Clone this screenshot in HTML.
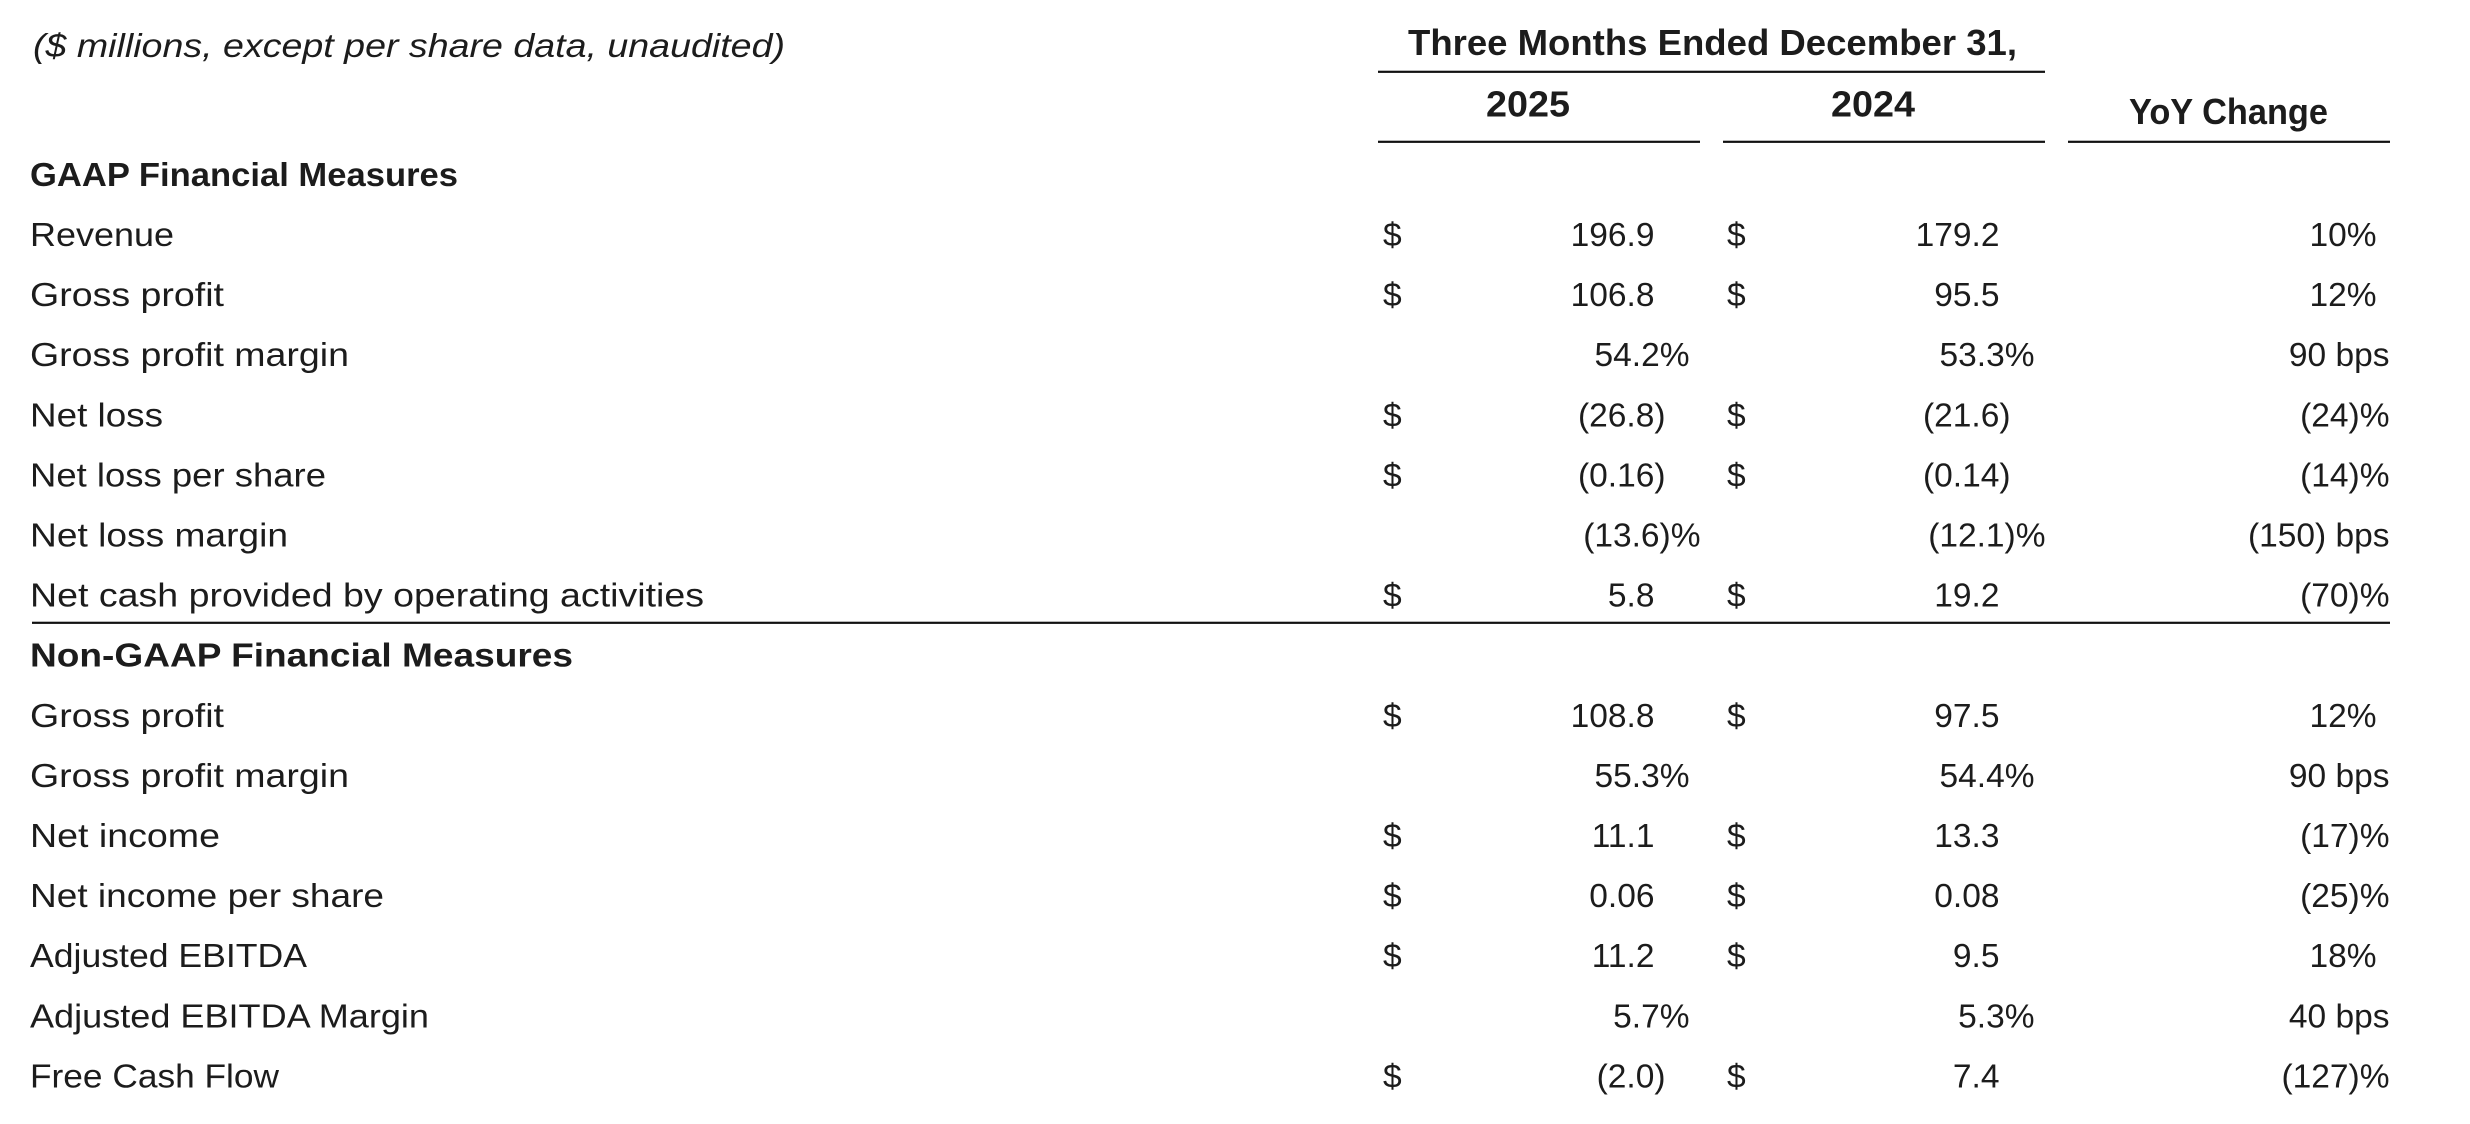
<!DOCTYPE html>
<html>
<head>
<meta charset="utf-8">
<style>
  html, body { margin: 0; padding: 0; background: #ffffff; }
  svg { display: block; }
  .t { font-family: "Liberation Sans", sans-serif; fill: #1c1c1c; }
  .lab { font-size: 33.5px; }
  .sec { font-size: 33px; font-weight: bold; }
  .hdr { font-size: 36px; font-weight: bold; }
  .num { font-size: 33.5px; text-anchor: end; }
  .usd { font-size: 33.5px; }
  .it { font-size: 33.5px; font-style: italic; }
</style>
</head>
<body>
<svg width="2470" height="1124" viewBox="0 0 2470 1124" xmlns="http://www.w3.org/2000/svg">
  <rect x="0" y="0" width="2470" height="1124" fill="#ffffff"/>

  <!-- subtitle -->
  <text class="t it" x="33" y="57" textLength="752" lengthAdjust="spacingAndGlyphs">($ millions, except per share data, unaudited)</text>

  <!-- column headers -->
  <text class="t hdr" x="1408" y="55" textLength="609" lengthAdjust="spacingAndGlyphs">Three Months Ended December 31,</text>
  <rect x="1378" y="70.7" width="667" height="2.2" fill="#111"/>
  <text class="t hdr" x="1486" y="116.7" textLength="84" lengthAdjust="spacingAndGlyphs">2025</text>
  <text class="t hdr" x="1831" y="116.7" textLength="84" lengthAdjust="spacingAndGlyphs">2024</text>
  <text class="t hdr" x="2129" y="124" textLength="199" lengthAdjust="spacingAndGlyphs">YoY Change</text>
  <rect x="1378" y="140.7" width="322" height="2.2" fill="#111"/>
  <rect x="1723" y="140.7" width="322" height="2.2" fill="#111"/>
  <rect x="2068" y="140.7" width="322" height="2.2" fill="#111"/>

  <!-- GAAP section -->
  <text class="t sec" x="30" y="186" textLength="428" lengthAdjust="spacingAndGlyphs">GAAP Financial Measures</text>

  <!-- Revenue -->
  <text class="t lab" x="30" y="246" textLength="144" lengthAdjust="spacingAndGlyphs">Revenue</text>
  <text class="t usd" x="1383" y="246">$</text>
  <text class="t num" x="1654.5" y="246">196.9</text>
  <text class="t usd" x="1727" y="246">$</text>
  <text class="t num" x="1999.5" y="246">179.2</text>
  <text class="t num" x="2376.5" y="246">10%</text>

  <!-- Gross profit -->
  <text class="t lab" x="30" y="306.1" textLength="194" lengthAdjust="spacingAndGlyphs">Gross profit</text>
  <text class="t usd" x="1383" y="306.1">$</text>
  <text class="t num" x="1654.5" y="306.1">106.8</text>
  <text class="t usd" x="1727" y="306.1">$</text>
  <text class="t num" x="1999.5" y="306.1">95.5</text>
  <text class="t num" x="2376.5" y="306.1">12%</text>

  <!-- Gross profit margin -->
  <text class="t lab" x="30" y="366.2" textLength="319" lengthAdjust="spacingAndGlyphs">Gross profit margin</text>
  <text class="t num" x="1689.5" y="366.2">54.2%</text>
  <text class="t num" x="2034.5" y="366.2">53.3%</text>
  <text class="t num" x="2389.5" y="366.2">90 bps</text>

  <!-- Net loss -->
  <text class="t lab" x="30" y="426.3" textLength="133" lengthAdjust="spacingAndGlyphs">Net loss</text>
  <text class="t usd" x="1383" y="426.3">$</text>
  <text class="t num" x="1665.5" y="426.3">(26.8)</text>
  <text class="t usd" x="1727" y="426.3">$</text>
  <text class="t num" x="2010.5" y="426.3">(21.6)</text>
  <text class="t num" x="2389.5" y="426.3">(24)%</text>

  <!-- Net loss per share -->
  <text class="t lab" x="30" y="486.4" textLength="296" lengthAdjust="spacingAndGlyphs">Net loss per share</text>
  <text class="t usd" x="1383" y="486.4">$</text>
  <text class="t num" x="1665.5" y="486.4">(0.16)</text>
  <text class="t usd" x="1727" y="486.4">$</text>
  <text class="t num" x="2010.5" y="486.4">(0.14)</text>
  <text class="t num" x="2389.5" y="486.4">(14)%</text>

  <!-- Net loss margin -->
  <text class="t lab" x="30" y="546.5" textLength="258" lengthAdjust="spacingAndGlyphs">Net loss margin</text>
  <text class="t num" x="1700.5" y="546.5">(13.6)%</text>
  <text class="t num" x="2045.5" y="546.5">(12.1)%</text>
  <text class="t num" x="2389.5" y="546.5">(150) bps</text>

  <!-- Net cash -->
  <text class="t lab" x="30" y="606.6" textLength="674" lengthAdjust="spacingAndGlyphs">Net cash provided by operating activities</text>
  <text class="t usd" x="1383" y="606.6">$</text>
  <text class="t num" x="1654.5" y="606.6">5.8</text>
  <text class="t usd" x="1727" y="606.6">$</text>
  <text class="t num" x="1999.5" y="606.6">19.2</text>
  <text class="t num" x="2389.5" y="606.6">(70)%</text>

  <!-- separator -->
  <rect x="32" y="621.7" width="2358" height="2.2" fill="#111"/>

  <!-- Non-GAAP section -->
  <text class="t sec" x="30" y="666.7" textLength="543" lengthAdjust="spacingAndGlyphs">Non-GAAP Financial Measures</text>

  <!-- Gross profit -->
  <text class="t lab" x="30" y="726.8" textLength="194" lengthAdjust="spacingAndGlyphs">Gross profit</text>
  <text class="t usd" x="1383" y="726.8">$</text>
  <text class="t num" x="1654.5" y="726.8">108.8</text>
  <text class="t usd" x="1727" y="726.8">$</text>
  <text class="t num" x="1999.5" y="726.8">97.5</text>
  <text class="t num" x="2376.5" y="726.8">12%</text>

  <!-- Gross profit margin -->
  <text class="t lab" x="30" y="786.9" textLength="319" lengthAdjust="spacingAndGlyphs">Gross profit margin</text>
  <text class="t num" x="1689.5" y="786.9">55.3%</text>
  <text class="t num" x="2034.5" y="786.9">54.4%</text>
  <text class="t num" x="2389.5" y="786.9">90 bps</text>

  <!-- Net income -->
  <text class="t lab" x="30" y="847" textLength="190" lengthAdjust="spacingAndGlyphs">Net income</text>
  <text class="t usd" x="1383" y="847">$</text>
  <text class="t num" x="1654.5" y="847">11.1</text>
  <text class="t usd" x="1727" y="847">$</text>
  <text class="t num" x="1999.5" y="847">13.3</text>
  <text class="t num" x="2389.5" y="847">(17)%</text>

  <!-- Net income per share -->
  <text class="t lab" x="30" y="907.1" textLength="354" lengthAdjust="spacingAndGlyphs">Net income per share</text>
  <text class="t usd" x="1383" y="907.1">$</text>
  <text class="t num" x="1654.5" y="907.1">0.06</text>
  <text class="t usd" x="1727" y="907.1">$</text>
  <text class="t num" x="1999.5" y="907.1">0.08</text>
  <text class="t num" x="2389.5" y="907.1">(25)%</text>

  <!-- Adjusted EBITDA -->
  <text class="t lab" x="30" y="967.2" textLength="277" lengthAdjust="spacingAndGlyphs">Adjusted EBITDA</text>
  <text class="t usd" x="1383" y="967.2">$</text>
  <text class="t num" x="1654.5" y="967.2">11.2</text>
  <text class="t usd" x="1727" y="967.2">$</text>
  <text class="t num" x="1999.5" y="967.2">9.5</text>
  <text class="t num" x="2376.5" y="967.2">18%</text>

  <!-- Adjusted EBITDA Margin -->
  <text class="t lab" x="30" y="1027.3" textLength="399" lengthAdjust="spacingAndGlyphs">Adjusted EBITDA Margin</text>
  <text class="t num" x="1689.5" y="1027.3">5.7%</text>
  <text class="t num" x="2034.5" y="1027.3">5.3%</text>
  <text class="t num" x="2389.5" y="1027.3">40 bps</text>

  <!-- Free Cash Flow -->
  <text class="t lab" x="30" y="1087.4" textLength="249" lengthAdjust="spacingAndGlyphs">Free Cash Flow</text>
  <text class="t usd" x="1383" y="1087.4">$</text>
  <text class="t num" x="1665.5" y="1087.4">(2.0)</text>
  <text class="t usd" x="1727" y="1087.4">$</text>
  <text class="t num" x="1999.5" y="1087.4">7.4</text>
  <text class="t num" x="2389.5" y="1087.4">(127)%</text>
</svg>
</body>
</html>
